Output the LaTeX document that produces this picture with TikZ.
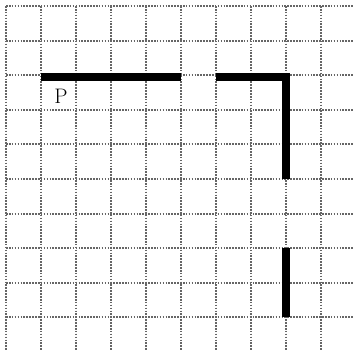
\documentclass[tikz,border=0pt]{standalone}
\begin{document}
\begin{tikzpicture}[x=1pt,y=-1pt,
  gridline/.style={draw=black!60, line width=2pt, dash pattern=on 1.6pt off 1.3pt},
  wall/.style={draw=black, line width=8pt}]
\useasboundingbox (0,0) rectangle (354,351);
\foreach \i in {0,...,9} {
  \draw[gridline] ({6+35*\i},6) -- ({6+35*\i},351);
  \draw[gridline] (6,{6+34.6*\i}) -- (354,{6+34.6*\i});
}
\coordinate (a) at (41,76.5);
\coordinate (b) at (181,76.5);
\coordinate (c) at (216,76.5);
\coordinate (d) at (286,76.5);
\coordinate (e) at (286,179);
\coordinate (f) at (286,248.2);
\coordinate (g) at (286,317.4);
\draw[wall] (a) -- (b);
\draw[wall,line join=miter] (c) -- (d) -- (e);
\draw[wall] (f) -- (g);
\node[font=\fontsize{21}{24}\selectfont, text=black, inner sep=0pt] (p) at (61,96) {P};
\end{tikzpicture}
\end{document}
